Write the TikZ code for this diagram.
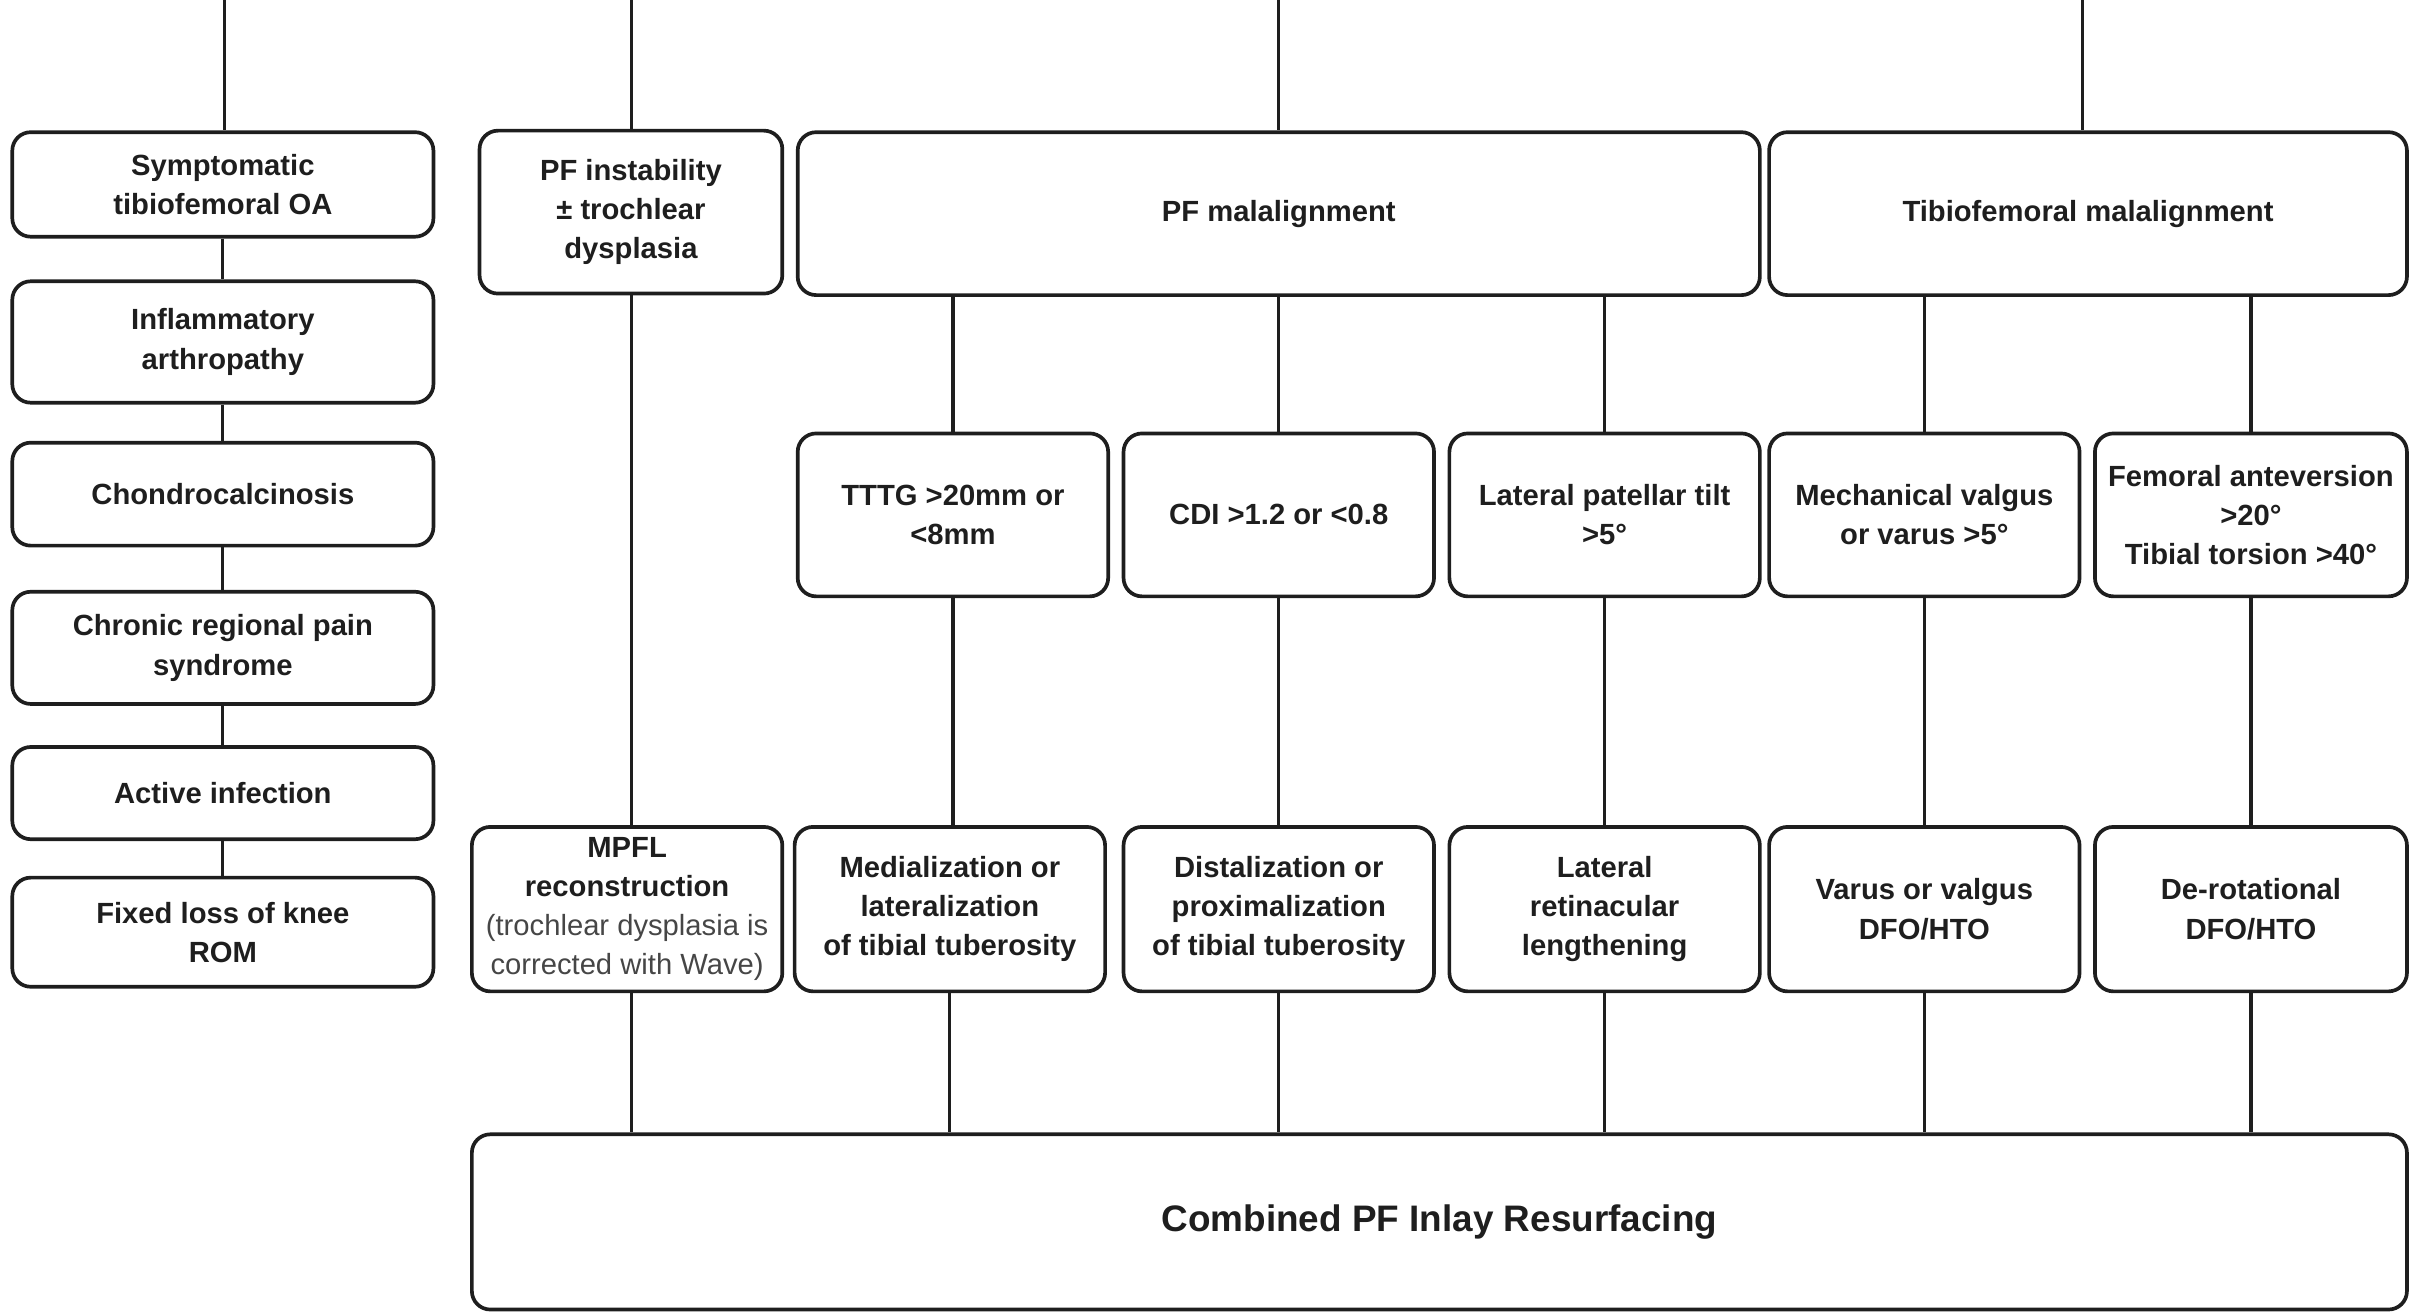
\documentclass[tikz,border=0pt]{standalone}
\usepackage{fontspec}
\setmainfont{Liberation Sans}
\definecolor{ink}{RGB}{30,30,30}
\definecolor{soft}{RGB}{70,70,70}
\begin{document}
\begin{tikzpicture}[x=1pt,y=-1pt,
  box/.style={draw=ink,line width=2.4pt,rounded corners=12pt,inner sep=0pt,
    align=center,text=ink,font=\fontsize{19}{25.5}\selectfont\bfseries},
  link/.style={draw=ink,line width=2.1pt}]
\useasboundingbox (0,0) rectangle (1568,855);
% left column
\node[box,minimum width=274pt,minimum height=68pt] (sym) at (145,120) {Symptomatic\\tibiofemoral OA};
\node[box,minimum width=274pt,minimum height=79pt] (infl) at (145,222.5) {Inflammatory\\arthropathy};
\node[box,minimum width=274pt,minimum height=67pt] (chon) at (145,321.5) {Chondrocalcinosis};
\node[box,minimum width=274pt,minimum height=73pt] (crps) at (145,421.5) {Chronic regional pain\\syndrome};
\node[box,minimum width=274pt,minimum height=60pt] (inf) at (145,516) {Active infection};
\node[box,minimum width=274pt,minimum height=71pt] (fix) at (145,606.5) {Fixed loss of knee\\ROM};
% top row
\node[box,minimum width=197pt,minimum height=106pt] (pfi) at (410.5,138) {PF instability\\± trochlear\\dysplasia};
\node[box,minimum width=626pt,minimum height=106pt] (pfm) at (832,139) {PF malalignment};
\node[box,minimum width=415pt,minimum height=106pt] (tfm) at (1358.5,139) {Tibiofemoral malalignment};
% middle row
\node[box,minimum width=202pt,minimum height=106pt] (tt) at (620,335) {TTTG >20mm or\\<8mm};
\node[box,minimum width=202pt,minimum height=106pt] (cdi) at (832,335) {CDI >1.2 or <0.8};
\node[box,minimum width=202pt,minimum height=106pt] (lpt) at (1044,335) {Lateral patellar tilt\\>5°};
\node[box,minimum width=202pt,minimum height=106pt] (mv) at (1252,335) {Mechanical valgus\\or varus >5°};
\node[box,minimum width=203pt,minimum height=106pt] (fa) at (1464.5,335) {Femoral anteversion\\>20°\\Tibial torsion >40°};
% bottom row
\node[box,minimum width=202pt,minimum height=107pt] (mpfl) at (408,591.5) {MPFL\\reconstruction\\{\mdseries\color{soft}(trochlear dysplasia is}\\{\mdseries\color{soft}corrected with Wave)}};
\node[box,minimum width=202pt,minimum height=107pt] (med) at (618,591.5) {Medialization or\\lateralization\\of tibial tuberosity};
\node[box,minimum width=202pt,minimum height=107pt] (dist) at (832,591.5) {Distalization or\\proximalization\\of tibial tuberosity};
\node[box,minimum width=202pt,minimum height=107pt] (lrl) at (1044,591.5) {Lateral\\retinacular\\lengthening};
\node[box,minimum width=202pt,minimum height=107pt] (vv) at (1252,591.5) {Varus or valgus\\DFO/HTO};
\node[box,minimum width=203pt,minimum height=107pt] (dr) at (1464.5,591.5) {De-rotational\\DFO/HTO};
% combined
\node[box,minimum width=1259pt,minimum height=114pt,font=\fontsize{24}{29}\selectfont\bfseries] (comb) at (936.5,795) {Combined PF Inlay Resurfacing};
% top free ends
\coordinate (t1) at (146,0);
\coordinate (t2) at (411,0);
\coordinate (t3) at (832,0);
\coordinate (t4) at (1355,0);
\draw[link] (t1) -- (t1 |- sym.north);
\draw[link] (t2) -- (t2 |- pfi.north);
\draw[link] (t3) -- (t3 |- pfm.north);
\draw[link] (t4) -- (t4 |- tfm.north);
% left chain
\draw[link] (sym.south) -- (infl.north);
\draw[link] (infl.south) -- (chon.north);
\draw[link] (chon.south) -- (crps.north);
\draw[link] (crps.south) -- (inf.north);
\draw[link] (inf.south) -- (fix.north);
% top to middle
\draw[link] (pfm.south -| tt.north) -- (tt.north);
\draw[link] (pfm.south -| cdi.north) -- (cdi.north);
\draw[link] (pfm.south -| lpt.north) -- (lpt.north);
\draw[link] (tfm.south -| mv.north) -- (mv.north);
\draw[link] (tfm.south -| fa.north) -- (fa.north);
\draw[link] (pfi.south -| t2) -- (mpfl.north -| t2);
% middle to bottom
\draw[link] (tt.south) -- (tt.south |- med.north);
\draw[link] (cdi.south) -- (dist.north);
\draw[link] (lpt.south) -- (lrl.north);
\draw[link] (mv.south) -- (vv.north);
\draw[link] (fa.south) -- (dr.north);
% bottom to combined
\draw[link] (mpfl.south -| t2) -- (comb.north -| t2);
\draw[link] (med.south) -- (med.south |- comb.north);
\draw[link] (dist.south) -- (dist.south |- comb.north);
\draw[link] (lrl.south) -- (lrl.south |- comb.north);
\draw[link] (vv.south) -- (vv.south |- comb.north);
\draw[link] (dr.south) -- (dr.south |- comb.north);
\end{tikzpicture}
\end{document}
